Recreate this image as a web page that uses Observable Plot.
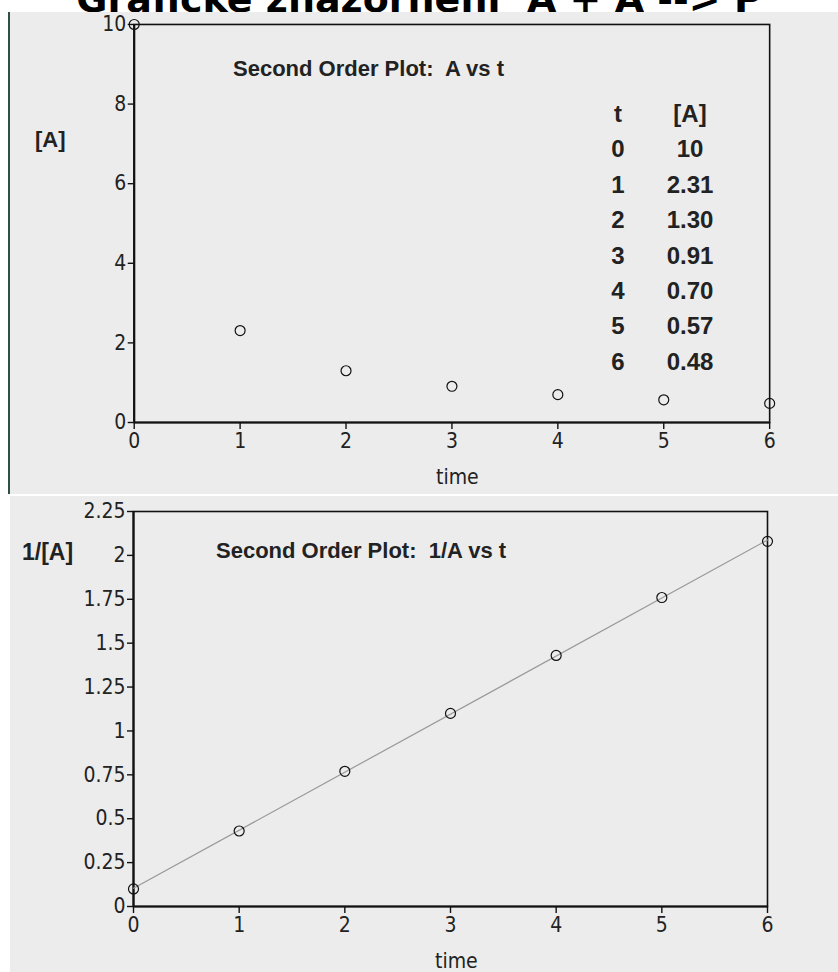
<!DOCTYPE html>
<html>
<head>
<meta charset="utf-8">
<script src="https://cdn.jsdelivr.net/npm/d3@7"></script>
<script src="https://cdn.jsdelivr.net/npm/@observablehq/plot@0.6"></script>
<style>
  html, body { margin: 0; padding: 0; background: #fff; }
  body { width: 838px; height: 972px; position: relative; overflow: hidden; font-family: "Liberation Sans", Arial, sans-serif; }
  .title { position: absolute; left: 0; width: 838px; top: -20px; text-align: center; font-family: "DejaVu Sans", Verdana, sans-serif; font-weight: bold; font-size: 38px; line-height: 38px; color: #000; white-space: pre; }
  .panel { position: absolute; background: #ececec; }
  .panel svg { position: absolute; left: 0; top: 0; background: transparent; overflow: visible; }
  .panel svg text { font-family: "Liberation Sans Narrow", "Arial Narrow", "DejaVu Sans Condensed", sans-serif !important; font-size: 21px !important; fill: #222; }
  .ann { position: absolute; font-weight: bold; color: #222; white-space: pre; line-height: 1; }
  .lab { position: absolute; color: #222; white-space: nowrap; line-height: 1; font-family: "Liberation Sans Narrow", "Arial Narrow", "DejaVu Sans Condensed", sans-serif; font-size: 21px; }
  table.vals { position: absolute; border-collapse: collapse; font-weight: bold; font-size: 24px; color: #222; }
  table.vals td { padding: 0; height: 35.4px; line-height: 35.4px; text-align: center; }
</style>
</head>
<body>
<div class="title">Grafické znázornění  A + A --&gt; P</div>
<div id="p1" class="panel" style="left:8px; top:12px; width:830px; height:482px; border-left:2px solid #2f5048; box-sizing:border-box;"></div>
<div id="p2" class="panel" style="left:10px; top:496px; width:828px; height:476px;"></div>
<script>
// Data
const times = [0, 1, 2, 3, 4, 5, 6];
const concA = [10, 2.31, 1.30, 0.91, 0.70, 0.57, 0.48];
const concALabels = ["10", "2.31", "1.30", "0.91", "0.70", "0.57", "0.48"];
const invA = [0.10, 0.43, 0.77, 1.10, 1.43, 1.76, 2.08];
const yTicksTop = [0, 2, 4, 6, 8, 10];
const yTicksBottom = [0, 0.25, 0.5, 0.75, 1, 1.25, 1.5, 1.75, 2, 2.25];
const yTickLabelsBottom = ["0", "0.25", "0.5", "0.75", "1", "1.25", "1.5", "1.75", "2", "2.25"];
const xTicks = [0, 1, 2, 3, 4, 5, 6];

const topData = times.map((t, i) => ({t, a: concA[i]}));
const botData = times.map((t, i) => ({t, inv: invA[i]}));

const svgStyle = {color: "#222", background: "transparent", overflow: "visible"};
const axisText = {fontSize: 21, stroke: "#111", strokeWidth: 1.4};

// Top plot: [A] vs t
const p1 = document.getElementById("p1");
const plot1 = Plot.plot({
  width: 830, height: 482,
  marginLeft: 124, marginRight: 69, marginTop: 12, marginBottom: 71,
  style: svgStyle,
  x: {domain: [0, 6]},
  y: {domain: [0, 10]},
  marks: [
    Plot.frame({stroke: "#111", strokeWidth: 1.6}),
    Plot.axisX({ticks: xTicks, tickSize: 7, tickPadding: 4, label: null, tickFormat: d => String(d), ...axisText}),
    Plot.axisY({ticks: yTicksTop, tickSize: 6, tickPadding: 2, label: null, tickFormat: d => String(d), ...axisText}),
    Plot.ruleX([0], {stroke: "#111", strokeWidth: 2.2}),
    Plot.ruleY([0], {stroke: "#111", strokeWidth: 2.2}),
    Plot.dot(topData, {x: "t", y: "a", r: 5, stroke: "#111", strokeWidth: 1.2, fill: "none"})
  ]
});
p1.appendChild(plot1);

function addDiv(parent, cls, text, css) {
  const d = document.createElement("div");
  d.className = cls; d.textContent = text;
  Object.assign(d.style, css);
  parent.appendChild(d);
  return d;
}
addDiv(p1, "ann", "Second Order Plot:  A vs t", {left: "223px", top: "46px", fontSize: "22px"});
addDiv(p1, "ann", "[A]", {left: "25px", top: "117px", fontSize: "22px"});
addDiv(p1, "lab", "time", {left: "426px", top: "455px"});

// Data table
const table = document.createElement("table");
table.className = "vals";
Object.assign(table.style, {left: "583px", top: "84px"});
const header = document.createElement("tr");
header.innerHTML = `<td style="width:50px">t</td><td style="width:94px">[A]</td>`;
table.appendChild(header);
times.forEach((t, i) => {
  const tr = document.createElement("tr");
  tr.innerHTML = `<td>${t}</td><td>${concALabels[i]}</td>`;
  table.appendChild(tr);
});
p1.appendChild(table);

// Bottom plot: 1/[A] vs t
const p2 = document.getElementById("p2");
const plot2 = Plot.plot({
  width: 828, height: 476,
  marginLeft: 123, marginRight: 71, marginTop: 15, marginBottom: 66,
  style: svgStyle,
  x: {domain: [0, 6]},
  y: {domain: [0, 2.25]},
  marks: [
    Plot.frame({stroke: "#111", strokeWidth: 1.6}),
    Plot.axisX({ticks: xTicks, tickSize: 7, tickPadding: 4, label: null, tickFormat: d => String(d), ...axisText}),
    Plot.axisY({ticks: yTicksBottom, tickSize: 6, tickPadding: 2, label: null,
      tickFormat: d => yTickLabelsBottom[yTicksBottom.indexOf(d)], ...axisText}),
    Plot.ruleX([0], {stroke: "#111", strokeWidth: 2.2}),
    Plot.ruleY([0], {stroke: "#111", strokeWidth: 2.2}),
    Plot.linearRegressionY(botData, {x: "t", y: "inv", stroke: "#999", strokeWidth: 1.2, ci: 0}),
    Plot.dot(botData, {x: "t", y: "inv", r: 5, stroke: "#111", strokeWidth: 1.2, fill: "none"})
  ]
});
p2.appendChild(plot2);
addDiv(p2, "ann", "Second Order Plot:  1/A vs t", {left: "206px", top: "44px", fontSize: "22px"});
addDiv(p2, "ann", "1/[A]", {left: "12px", top: "45px", fontSize: "23px"});
addDiv(p2, "lab", "time", {left: "425px", top: "455px"});
</script>
</body>
</html>
